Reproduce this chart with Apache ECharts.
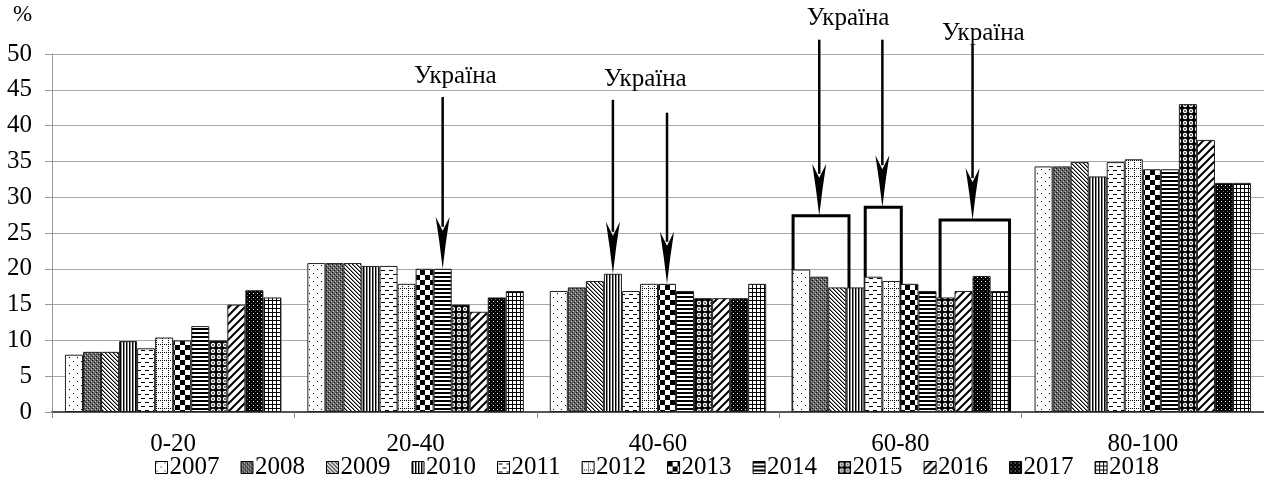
<!DOCTYPE html>
<html>
<head>
<meta charset="utf-8">
<script src="https://cdn.jsdelivr.net/npm/echarts@6/dist/echarts.min.js"></script>
<style>html,body{margin:0;padding:0;background:#fff}#c{width:1264px;height:489px}</style>
</head>
<body>
<div id="c"></div>
<script>
// ---- data ----
const categories = ['0-20', '20-40', '40-60', '60-80', '80-100'];
const years = ['2007','2008','2009','2010','2011','2012','2013','2014','2015','2016','2017','2018'];
const v2007 = [8.0, 20.8, 16.9, 19.9, 34.3];
const v2008 = [8.4, 20.8, 17.4, 18.9, 34.3];
const v2009 = [8.4, 20.8, 18.3, 17.4, 34.9];
const v2010 = [9.9, 20.4, 19.3, 17.4, 32.9];
const v2011 = [8.9, 20.4, 16.9, 18.9, 34.9];
const v2012 = [10.4, 17.9, 17.9, 18.3, 35.3];
const v2013 = [10.0, 20.0, 17.9, 17.9, 33.9];
const v2014 = [12.0, 20.0, 16.9, 16.9, 33.9];
const v2015 = [10.0, 15.0, 15.9, 16.0, 43.0];
const v2016 = [15.0, 14.0, 15.9, 16.9, 38.0];
const v2017 = [17.0, 16.0, 15.9, 19.0, 32.0];
const v2018 = [16.0, 16.9, 17.9, 16.9, 32.0];
const seriesValues = [v2007,v2008,v2009,v2010,v2011,v2012,v2013,v2014,v2015,v2016,v2017,v2018];
const yTicks = [0,5,10,15,20,25,30,35,40,45,50];
const annotationText = 'Україна';
// annotation boxes: [category, fromBar, toBar, topValue]
const boxes = [[3, 0.05, 3.15, 27.4], [3, 4.05, 6.05, 28.6], [3, 8.2, 12.05, 26.8]];
// arrows: [category, barPos, tipValue, tailValue]
const arrows = [[1, 7.5, 20.0, 44.0], [2, 3.5, 19.3, 43.6], [2, 6.5, 17.9, 41.8],
                [3, 1.5, 27.4, 52.0], [3, 5.0, 28.6, 52.0], [3, 10.0, 26.8, 51.3]];
// labels: [category, barPos, value]
const labels = [[1, 8.2, 46.9], [2, 5.3, 46.5], [3, 3.1, 55.0], [3, 10.6, 52.9]];

// ---- patterns ----
function pat(w, h, draw) {
  const c = document.createElement('canvas');
  c.width = w; c.height = h;
  const g = c.getContext('2d');
  g.fillStyle = '#fff'; g.fillRect(0, 0, w, h);
  g.fillStyle = '#000'; g.strokeStyle = '#000';
  draw(g);
  return { image: c, repeat: 'repeat' };
}
const patterns = [
  pat(8, 8, g => { g.fillRect(1, 1, 1, 1); g.fillRect(5, 5, 1, 1); }),
  pat(4, 4, g => { g.fillStyle = '#666'; g.fillRect(0,0,4,4); g.fillStyle='#111'; g.fillRect(0,0,1,1); g.fillRect(2,2,1,1); g.fillStyle='#ccc'; g.fillRect(1,3,1,1); g.fillRect(3,1,1,1);}),
  pat(4, 4, g => { for (let i = 0; i < 4; i++) g.fillRect(i, i, 1, 1); g.fillStyle='#888'; for (let i = 0; i < 4; i++) g.fillRect((i+1)%4, i, 1, 1); }),
  pat(3, 3, g => { g.fillRect(0, 0, 1, 3); g.fillStyle = '#888'; g.fillRect(1, 0, 1, 3); }),
  pat(8, 8, g => { g.fillRect(1, 2, 4, 1); g.fillRect(5, 6, 3, 1); g.fillRect(0, 6, 1, 1); }),
  pat(6, 8, g => { for (let y = 0; y < 8; y += 2) g.fillRect(0, y, 1, 1); for (let x = 0; x < 6; x += 2) g.fillRect(x, 0, 1, 1); }),
  pat(10, 10, g => { g.fillRect(0, 0, 5, 5); g.fillRect(5, 5, 5, 5); }),
  pat(4, 4, g => { g.fillRect(0, 0, 4, 2); }),
  pat(6, 6, g => { g.fillRect(0,0,6,6); g.fillStyle='#fff'; g.beginPath(); g.arc(3,3,2.2,0,Math.PI*2); g.fill(); g.fillStyle='#444'; g.beginPath(); g.arc(3,3,1,0,Math.PI*2); g.fill(); }),
  pat(8, 8, g => { g.lineWidth = 2; g.beginPath(); g.moveTo(-1, 9); g.lineTo(9, -1); g.moveTo(-5, 5); g.lineTo(5, -5); g.moveTo(3, 13); g.lineTo(13, 3); g.stroke(); }),
  pat(4, 4, g => { g.fillRect(0, 0, 4, 4); g.fillStyle = '#fff'; g.fillRect(1, 1, 1, 1); g.fillStyle = '#666'; g.fillRect(3,3,1,1); }),
  pat(4, 4, g => { g.fillRect(0, 0, 4, 1); g.fillRect(0, 0, 1, 4); })
];

const FONT = '"Liberation Serif", "Times New Roman", serif';
const FS = 25;
const GAP = 0.107;

const chart = echarts.init(document.getElementById('c'), null, { renderer: 'canvas' });

function barX(api, cat, pos) {
  const center = api.coord([cat, 0])[0];
  const band = api.size([1, 0])[0];
  const bw = band * (1 - GAP) / 12;
  return center - 6 * bw + pos * bw;
}

const barSeries = years.map((y, i) => ({
  name: y,
  type: 'bar',
  data: seriesValues[i],
  barGap: '0%',
  barCategoryGap: (GAP * 100) + '%',
  itemStyle: { color: patterns[i], borderColor: '#222', borderWidth: 1 },
  z: 3
}));

const boxSeries = {
  type: 'custom', name: 'boxes', z: 2, silent: true, clip: false,
  data: boxes,
  renderItem: (params, api) => {
    const cat = api.value(0);
    const x1 = barX(api, cat, api.value(1));
    const x2 = barX(api, cat, api.value(2));
    const yTop = api.coord([cat, api.value(3)])[1];
    const yBot = api.coord([cat, 0])[1] - 2;
    return { type: 'rect', shape: { x: x1, y: yTop, width: x2 - x1, height: yBot - yTop },
             style: { fill: 'none', stroke: '#000', lineWidth: 3 } };
  }
};

const arrowSeries = {
  type: 'custom', name: 'arrows', z: 4, silent: true, clip: false,
  data: arrows,
  renderItem: (params, api) => {
    const cat = api.value(0);
    const x = barX(api, cat, api.value(1));
    const tip = api.coord([cat, api.value(2)])[1];
    const tail = api.coord([cat, api.value(3)])[1];
    const head = 52;
    return { type: 'group', children: [
      { type: 'line', shape: { x1: x, y1: tail, x2: x, y2: tip - head + 10 }, style: { stroke: '#000', lineWidth: 2.5 } },
      { type: 'polygon', shape: { points: [[x, tip], [x - 3.2, tip - 26], [x - 7, tip - head], [x, tip - head + 14], [x + 7, tip - head], [x + 3.2, tip - 26]] },
        style: { fill: '#000' } }
    ]};
  }
};

const labelSeries = {
  type: 'custom', name: 'labels', z: 4, silent: true, clip: false,
  data: labels,
  renderItem: (params, api) => {
    const cat = api.value(0);
    const x = barX(api, cat, api.value(1));
    const y = api.coord([cat, api.value(2)])[1];
    return { type: 'text', style: { text: annotationText, x: x, y: y, align: 'center', verticalAlign: 'middle',
             fontSize: FS, fontFamily: FONT, fill: '#000' } };
  }
};

chart.setOption({
  animation: false,
  backgroundColor: '#fff',
  grid: { left: 52, right: 0, top: 54, bottom: 77, containLabel: false },
  legend: {
    data: years,
    bottom: 4, left: 150,
    itemWidth: 12, itemHeight: 12, itemGap: 21,
    icon: 'rect',
    textStyle: { fontFamily: FONT, fontSize: FS, color: '#000', padding: [0, 0, 0, -3] },
    itemStyle: { borderColor: '#000', borderWidth: 1 }
  },
  graphic: [{ type: 'text', left: 13, top: 3, style: { text: '%', fontSize: 23, fontFamily: FONT, fill: '#000' } }],
  xAxis: {
    type: 'category', data: categories,
    axisLine: { lineStyle: { color: '#555', width: 2 } },
    axisTick: { show: true, length: 6, lineStyle: { color: '#888' } },
    axisLabel: { fontFamily: FONT, fontSize: FS, color: '#000', margin: 20 }
  },
  yAxis: {
    type: 'value', min: yTicks[0], max: yTicks[yTicks.length - 1], interval: yTicks[1] - yTicks[0],
    axisLine: { show: true, lineStyle: { color: '#999' } },
    axisTick: { show: true, length: 7, lineStyle: { color: '#999' } },
    axisLabel: { fontFamily: FONT, fontSize: FS, color: '#000', margin: 20 },
    splitLine: { lineStyle: { color: '#a8a8a8', width: 1 } }
  },
  series: [...barSeries, boxSeries, arrowSeries, labelSeries]
});
</script>
</body>
</html>
